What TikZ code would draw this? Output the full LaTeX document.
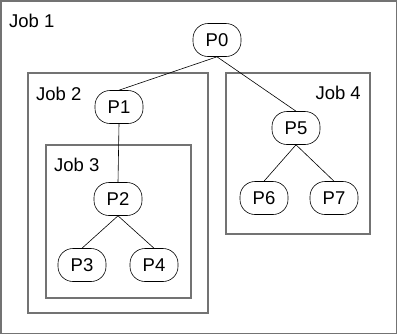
\documentclass[tikz,border=0pt]{standalone}
\usepackage{fontspec}
\setmainfont{Liberation Sans}
\begin{document}
\begin{tikzpicture}[x=1pt,y=-1pt,
  job/.style={draw=black!55, line width=1.4pt},
  proc/.style={draw=black, line width=0.6pt, rounded corners=15pt, minimum width=48pt, minimum height=33pt, inner sep=0pt, font=\fontsize{18.5}{18.5}\selectfont},
  lbl/.style={font=\fontsize{18.5}{18.5}\selectfont, anchor=base west, inner sep=0pt},
  edge/.style={draw=black, line width=0.6pt}]
\useasboundingbox (0,0) rectangle (398,335);
\fill[white] (0,0) rectangle (398,335);
\draw[job] (1,1) rectangle (396.5,333.5);
\draw[job] (28,73) rectangle (208,313);
\draw[job] (46,145) rectangle (191,298);
\draw[job] (226,73) rectangle (370,234);
\node[lbl] (j1) at (9,27) {Job 1};
\node[lbl] (j2) at (36,100) {Job 2};
\node[lbl] (j3) at (54,171) {Job 3};
\node[lbl, anchor=base east] (j4) at (361,99) {Job 4};
\node[proc] (p0) at (217,40) {P0};
\node[proc] (p1) at (119,107) {P1};
\node[proc] (p2) at (118,199) {P2};
\node[proc] (p3) at (82,265) {P3};
\node[proc] (p4) at (154,265) {P4};
\node[proc] (p5) at (296,128) {P5};
\node[proc] (p6) at (264,198) {P6};
\node[proc] (p7) at (334,198) {P7};
\draw[edge] (p0.south) -- (p1.north);
\draw[edge] (p0.south) -- (p5.north);
\draw[edge] (p1.south) -- (p2.north);
\draw[edge] (p2.south) -- (p3.north);
\draw[edge] (p2.south) -- (p4.north);
\draw[edge] (p5.south) -- (p6.north);
\draw[edge] (p5.south) -- (p7.north);
\end{tikzpicture}
\end{document}
